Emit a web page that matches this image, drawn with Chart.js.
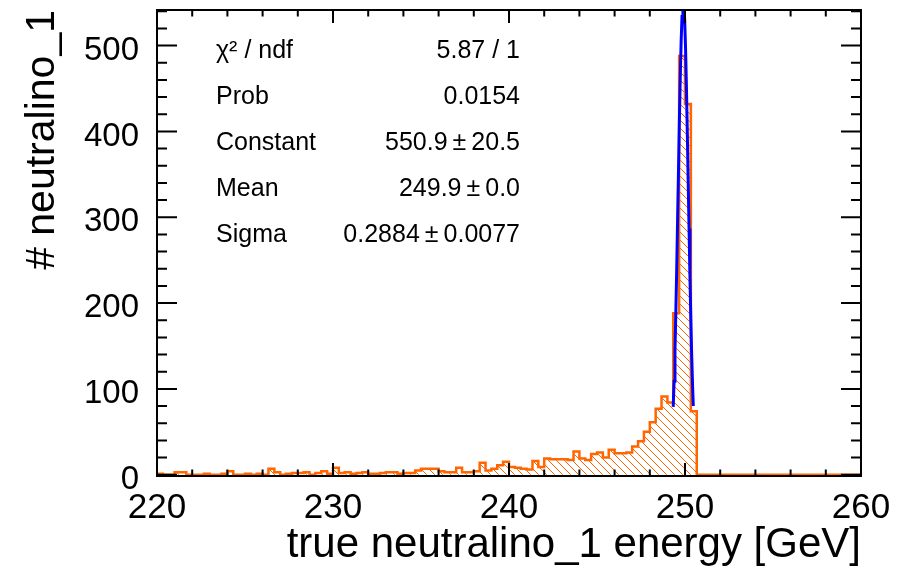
<!DOCTYPE html>
<html><head><meta charset="utf-8">
<script src="https://cdn.jsdelivr.net/npm/chart.js@4/dist/chart.umd.min.js"></script>
<style>html,body{margin:0;padding:0;background:#fff;overflow:hidden}#wrap{width:910px;height:571px}</style>
</head><body><div id="wrap"><canvas id="c" width="910" height="571"></canvas></div>
<script>
// ---- data ----
const xMin = 220, xMax = 260, nBins = 120;
const counts = [
  1,0,0,3,3,0,0,0,1,0,
  0,1,4,0,0,1,0,1,0,7,
  3,0,1,2,2,3,0,2,4,1,
  8,2,3,1,2,3,1,1,2,3,
  3,1,2,2,5,7,7,7,4,3,
  3,8,3,3,4,14,5,7,11,15,
  9,8,7,6,16,9,19,18,18,18,
  17,27,19,17,24,26,20,29,25,25,
  26,33,39,50,61,77,91,84,188,488,
  432,74,0,0,0,0,0,0,0,0,
  0,0,0,0,0,0,0,0,0,0,
  0,0,0,0,0,0,0,0,0,0
];
const fitX = [249.33,249.38,249.43,249.48,249.53,249.58,249.63,249.68,249.73,249.78,249.83,249.88,
              249.93,249.98,250.03,250.08,250.13,250.18,250.23,250.28,250.33,250.38,250.43,250.47];
const fitY = [79,109,145,190,240,298,354,412,462,504,534,550,
              549,531,498,453,400,343,287,232,183,139,104,80];
const xTickLabels = [220,230,240,250,260];
const yTickLabels = [0,100,200,300,400,500];
const yMin = -1.5, yMax = 541.5;
const statNames = ['\u03C7\u00B2 / ndf','Prob','Constant','Mean','Sigma'];
const statValues = ['5.87 / 1','0.0154','550.9\u2009\u00B1\u200920.5','249.9\u2009\u00B1\u20090.0','0.2884\u2009\u00B1\u20090.0077'];
const xTitle = 'true neutralino_1 energy [GeV]';
const yTitle = '# neutralino_1';

// ---- build datasets ----
const bw = (xMax - xMin) / nBins;
const histPts = counts.map((c, k) => ({x: xMin + k * bw, y: c}));
histPts.push({x: xMax, y: counts[nBins - 1]});
const fitPts = fitX.map((v, i) => ({x: v, y: fitY[i]}));

const ORANGE = '#ff6600';
function makeHatch() {
  const s = 8;
  const c = document.createElement('canvas');
  c.width = s; c.height = s;
  const g = c.getContext('2d');
  g.strokeStyle = ORANGE; g.lineWidth = 1;
  g.beginPath();
  g.moveTo(-1, -1); g.lineTo(s + 1, s + 1);
  g.moveTo(-1, s - 1); g.lineTo(1, s + 1);
  g.moveTo(s - 1, -1); g.lineTo(s + 1, 1);
  g.stroke();
  return g.createPattern(c, 'repeat');
}
const ctx = document.getElementById('c').getContext('2d');
const hatch = makeHatch();

const FONT = "'Liberation Sans', Arial, Helvetica, sans-serif";

const framePlugin = {
  id: 'rootFrame',
  afterDatasetsDraw(chart) {
    const {ctx, chartArea: a, scales: {x, y}} = chart;
    ctx.save();
    ctx.strokeStyle = '#000';
    ctx.lineWidth = 2;
    ctx.lineCap = 'butt';
    ctx.beginPath();
    for (let v = xMin; v <= xMax + 1e-9; v += 2) {
      const px = x.getPixelForValue(v);
      const major = Math.abs((v - xMin) % 10) < 1e-9;
      const L = major ? 13 : 6.5;
      ctx.moveTo(px, a.bottom); ctx.lineTo(px, a.bottom - L);
      ctx.moveTo(px, a.top); ctx.lineTo(px, a.top + L);
    }
    for (let v = 0; v <= yMax; v += 20) {
      const py = y.getPixelForValue(v);
      const major = v % 100 === 0;
      const L = major ? 20 : 10;
      ctx.moveTo(a.left, py); ctx.lineTo(a.left + L, py);
      ctx.moveTo(a.right, py); ctx.lineTo(a.right - L, py);
    }
    ctx.stroke();
    ctx.strokeRect(a.left, a.top, a.right - a.left, a.bottom - a.top);
    ctx.restore();
  },
  afterDraw(chart) {
    const {ctx} = chart;
    ctx.save();
    ctx.fillStyle = '#000';
    ctx.font = '25px ' + FONT;
    ctx.textBaseline = 'alphabetic';
    const base0 = 58, step = 46;
    statNames.forEach((n, i) => {
      const yb = base0 + i * step;
      ctx.textAlign = 'left';
      ctx.fillText(n, 216, yb);
      ctx.textAlign = 'right';
      ctx.fillText(statValues[i], 520, yb);
    });
    ctx.restore();
  }
};

new Chart(ctx, {
  type: 'line',
  data: {
    datasets: [
      {data: fitPts, borderColor: '#0000ff', borderWidth: 3, pointRadius: 0, fill: false, tension: 0, order: 1},
      {data: histPts, stepped: true, borderColor: ORANGE, borderWidth: 2.5, backgroundColor: hatch,
       fill: 'origin', pointRadius: 0, order: 2}
    ]
  },
  options: {
    responsive: false,
    animation: false,
    events: [],
    layout: {padding: {top: 10, right: 49, left: 0, bottom: 0}},
    plugins: {legend: {display: false}, tooltip: {enabled: false}},
    scales: {
      x: {
        type: 'linear', min: xMin, max: xMax,
        afterBuildTicks: s => { s.ticks = xTickLabels.map(v => ({value: v})); },
        afterFit: s => { s.height = 95; s.paddingLeft = 0; s.paddingRight = 0; },
        grid: {display: false, drawTicks: false},
        border: {display: false},
        ticks: {font: {family: FONT, size: 35}, color: '#000', padding: 11, maxRotation: 0, autoSkip: false,
                callback: v => String(v)},
        title: {display: true, text: xTitle, align: 'end', color: '#000',
                font: {family: FONT, size: 42}, padding: {top: 0, bottom: 0}}
      },
      y: {
        type: 'linear', min: yMin, max: yMax,
        afterBuildTicks: s => { s.ticks = yTickLabels.map(v => ({value: v})); },
        afterFit: s => { s.width = 157; s.paddingTop = 0; s.paddingBottom = 0; },
        grid: {display: false, drawTicks: false},
        border: {display: false},
        ticks: {font: {family: FONT, size: 33}, color: '#000', padding: 18, labelOffset: 5, autoSkip: false,
                callback: v => String(v)},
        title: {display: true, text: yTitle, align: 'end', color: '#000',
                font: {family: FONT, size: 41}, padding: {top: 18, bottom: 0}}
      }
    }
  },
  plugins: [framePlugin]
});
</script>
</body></html>
